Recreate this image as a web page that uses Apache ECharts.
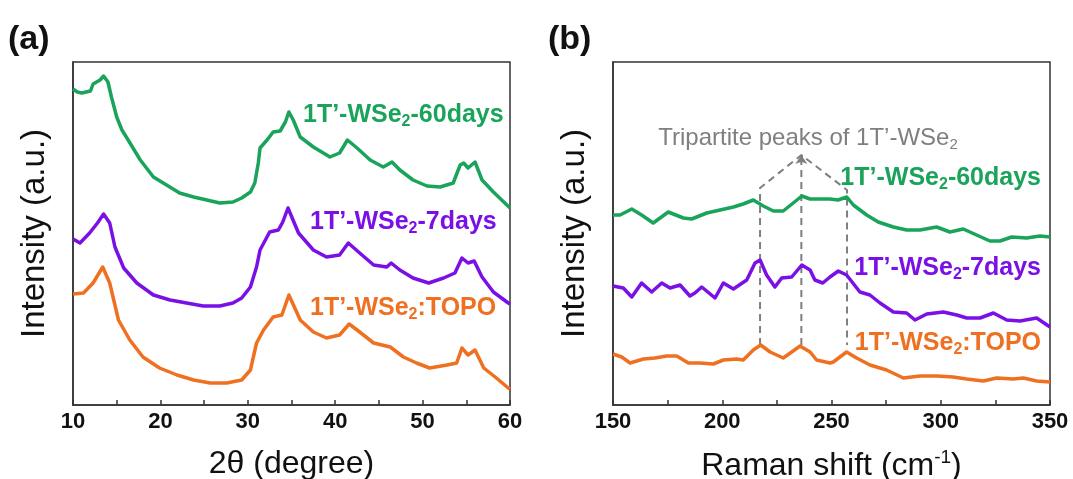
<!DOCTYPE html>
<html>
<head>
<meta charset="utf-8">
<script src="https://cdn.jsdelivr.net/npm/echarts@6/dist/echarts.min.js"></script>
<style>
html,body{margin:0;padding:0;background:#fff;}
#c{width:1073px;height:479px;}
</style>
</head>
<body>
<div id="c"></div>
<script>
// ---------- Panel (a): XRD ----------
const xrdX60 = [10,10.5,11,11.5,12,12.3,13.1,13.5,14.0,14.4,15.0,15.6,16.1,17.7,19.2,20.7,22.2,23.8,25.3,26.8,28.3,29.3,30.3,30.8,31.2,31.4,32.2,32.9,33.7,34.3,34.7,35.2,36.0,37.5,39.4,40.5,41.4,42.5,44.0,45.5,46.5,47.4,48.9,50.5,52.0,53.5,54.3,54.7,55.2,56.0,56.8,58.1,60];
const xrdY60 = [316,313,312,313,314,321,325,329,323,308,288,275,268,245,228,220,212,208,205,202,203,207,213,222,242,257,265,273,274,283,293,285,268,258,248,252,265,257,245,238,243,235,225,219,218,222,240,242,237,243,225,213,197];

const xrdX7 = [10,10.8,11.9,12.8,13.5,14.2,14.8,15.8,17.3,19.2,21.1,23.0,24.9,26.8,28.3,29.3,30.3,31.0,31.4,32.5,33.5,34.0,34.6,35.8,37.5,39.0,40.5,41.5,42.8,44.4,45.9,46.4,47.4,48.9,50.7,52.4,53.7,54.5,55.2,55.9,56.8,58.1,59.8,60];
const xrdY7 = [166,162,172,182,191,182,158,137,122,110,105,102,99,99,102,107,118,138,155,173,175,183,197,172,155,148,150,162,152,140,138,142,135,127,122,127,132,147,142,144,128,113,102,101];

const xrdXT = [10,11.2,12.3,13.4,14.2,15.2,16.5,18.0,19.9,21.9,23.8,25.7,27.6,29.3,30.3,31.0,31.8,32.9,33.9,34.7,36.0,37.5,39.0,40.5,41.6,42.8,44.4,46.3,47.8,49.3,50.8,52.8,53.9,54.5,55.2,56.0,57.0,58.3,59.8,60];
const xrdYT = [111,112,122,138,122,85,65,48,37,30,25,22,22,25,35,62,75,88,90,110,85,73,67,70,81,73,62,58,48,42,37,40,42,57,50,55,37,28,17,16];

// ---------- Panel (b): Raman ----------
const ramX60 = [150,153.2,158.6,163.1,168.4,175.3,182.2,186,192.9,199,205.1,209.6,214.2,218.8,223.4,227.9,232.5,236.4,240.2,244.7,249.3,253,257,260,266.1,271.4,278.3,284.4,290.5,298.1,304.2,310.3,316.4,322.5,327.1,332.5,339.3,345.4,350];
const ramY60 = [190,190,196,190,182,193,187,186,192,195,198,201,205,199,194,194,202,209,206,206,206,205,208,200,190,183,178,175,175,178,173,176,170,164,164,168,167,169,168];

const ramX7 = [150,154.7,158.6,163.1,167.7,172.3,176.1,180.7,185.2,187.5,190.6,196.7,200.5,205.1,211.2,215,217.3,220.3,224.1,227.2,231.8,236.4,240.2,242.4,246,249.3,253.1,256.9,263.0,267.6,272.2,278.3,284.4,288.2,293.6,301.2,307.3,311.9,318.0,324.1,330.2,336.3,343.9,350];
const ramY7 = [119,117,108,122,113,122,117,120,109,112,118,107,122,116,125,142,145,130,118,127,128,140,135,125,122,128,134,130,113,110,102,93,92,85,91,93,90,87,87,92,85,84,87,78];

const ramXT = [150,154,157.8,163.9,169.2,174.6,179.2,184.5,189.8,195.9,200.5,206.6,209.6,214.2,217.6,221.9,227.9,231.8,235.6,240.2,243.2,249.3,250.8,256.9,261.5,267.6,275.2,282.9,290.5,298.1,305.7,311.9,319.5,325.6,333.2,337.8,343.9,350];
const ramYT = [51,48,42,46,47,49,49,42,42,41,45,46,45,55,60,53,47,53,59,53,45,42,43,53,47,40,35,27,29,29,28,26,24,27,26,27,24,23];

// guide lines marking the tripartite peaks (Raman shift, intensity)
const peakX = [217.3, 236.2, 257.1];
const guideTop = [217, 250, 215];
const guideBottom = 60;

const xrdTicks = {min:10, max:60, interval:10};
const ramTicks = {min:150, max:350, interval:50};

const GREEN = '#1aa35a', PURPLE = '#7a10e6', ORANGE = '#ee7020', GRAY = '#7f7f7f';
const FONT = 'Liberation Sans, Arial, sans-serif';

function pairs(xs, ys){ return xs.map((x,i)=>[x, ys[i]]); }

const chart = echarts.init(document.getElementById('c'));

function xAxisCfg(grid, t, name, rich){
  return {
    type:'value', gridIndex:grid, min:t.min, max:t.max, interval:t.interval,
    name:name, nameLocation:'middle', nameGap:43,
    nameTextStyle:{fontFamily:FONT, fontSize:32, color:'#111', rich:rich},
    axisLine:{show:true, lineStyle:{color:'#333', width:1.5}},
    axisTick:{show:true, inside:true, length:5, lineStyle:{color:'#333', width:1.5}},
    minorTick:{show:true, splitNumber:2, length:5, lineStyle:{color:'#333', width:1.5}},
    axisLabel:{fontFamily:FONT, fontSize:22, fontWeight:'bold', color:'#111', margin:6, showMinLabel:true, showMaxLabel:true},
    splitLine:{show:false}
  };
}
function yAxisCfg(grid){
  return {
    type:'value', gridIndex:grid, min:0, max:343,
    name:'Intensity (a.u.)', nameLocation:'middle', nameGap:22, nameRotate:90,
    nameTextStyle:{fontFamily:FONT, fontSize:33, color:'#111'},
    axisLine:{show:true, lineStyle:{color:'#333', width:1.5}},
    axisTick:{show:false}, axisLabel:{show:false}, splitLine:{show:false}
  };
}
function lineSeries(xi, data, color){
  return {type:'line', xAxisIndex:xi, yAxisIndex:xi, data:data, symbol:'none',
    lineStyle:{color:color, width:3.5, join:'round'}, silent:true, animation:false};
}

const guidePath = [
  [peakX[0], guideBottom], [peakX[0], guideTop[0]],
  [peakX[1], guideTop[1]],
  [peakX[2], guideTop[2]], [peakX[2], guideBottom]
];

function subLabel(pre, post, color, size){
  return {
    text:'{m|'+pre+'}{s|2}{m|'+post+'}',
    rich:{
      m:{fontFamily:FONT, fontSize:size, fontWeight:'bold', fill:color, lineHeight:size+4},
      s:{fontFamily:FONT, fontSize:Math.round(size*0.62), fontWeight:'bold', fill:color, verticalAlign:'bottom', lineHeight:12}
    }
  };
}
function labelText(x, y, pre, post, color, align){
  const st = subLabel(pre, post, color, 25);
  st.align = align; st.verticalAlign = 'middle';
  return {type:'text', x:x, y:y, style:st, silent:true};
}

chart.setOption({
  animation:false,
  backgroundColor:'#fff',
  grid:[
    {left:73, right:563, top:62, bottom:74, show:true, borderColor:'#333', borderWidth:1.5, backgroundColor:'transparent', containLabel:false, outerBoundsMode:'none'},
    {left:613, right:23, top:62, bottom:74, show:true, borderColor:'#333', borderWidth:1.5, backgroundColor:'transparent', containLabel:false, outerBoundsMode:'none'}
  ],
  xAxis:[
    xAxisCfg(0, xrdTicks, '2θ (degree)'),
    xAxisCfg(1, ramTicks, '{n|Raman shift (cm}{p|-1}{n|)}', {
      n:{fontFamily:FONT, fontSize:32, color:'#111', lineHeight:36},
      p:{fontFamily:FONT, fontSize:19, color:'#111', verticalAlign:'top', lineHeight:14}
    })
  ],
  yAxis:[yAxisCfg(0), yAxisCfg(1)],
  series:[
    lineSeries(0, pairs(xrdX60, xrdY60), GREEN),
    lineSeries(0, pairs(xrdX7, xrdY7), PURPLE),
    lineSeries(0, pairs(xrdXT, xrdYT), ORANGE),
    {type:'line', xAxisIndex:1, yAxisIndex:1, data:guidePath, symbol:'none', silent:true,
      lineStyle:{color:GRAY, width:2, type:[7,5]}, z:1},
    {type:'line', xAxisIndex:1, yAxisIndex:1, data:[[peakX[1], guideBottom],[peakX[1], guideTop[1]]], symbol:'none', silent:true,
      lineStyle:{color:GRAY, width:2, type:[7,5]}, z:1,
      markLine:{silent:true, symbol:['none','arrow'], symbolSize:[9,9], label:{show:false},
        lineStyle:{color:GRAY, width:2, type:'solid'},
        data:[[{coord:[peakX[1], guideTop[1]-6]},{coord:[peakX[1], guideTop[1]]}]]}},
    lineSeries(1, pairs(ramX60, ramY60), GREEN),
    lineSeries(1, pairs(ramX7, ramY7), PURPLE),
    lineSeries(1, pairs(ramXT, ramYT), ORANGE)
  ],
  graphic:[
    {type:'text', x:8, y:40, style:{text:'(a)', fontFamily:FONT, fontSize:34, fontWeight:'bold', fill:'#111', verticalAlign:'middle'}},
    {type:'text', x:548, y:40, style:{text:'(b)', fontFamily:FONT, fontSize:34, fontWeight:'bold', fill:'#111', verticalAlign:'middle'}},
    labelText(303, 115, '1T’-WSe', '-60days', GREEN, 'left'),
    labelText(310, 222, '1T’-WSe', '-7days', PURPLE, 'left'),
    labelText(310, 308, '1T’-WSe', ':TOPO', ORANGE, 'left'),
    labelText(1041, 178, '1T’-WSe', '-60days', GREEN, 'right'),
    labelText(1041, 268, '1T’-WSe', '-7days', PURPLE, 'right'),
    labelText(1041, 343, '1T’-WSe', ':TOPO', ORANGE, 'right'),
    {type:'text', x:808, y:138, silent:true, style:{
      text:'{m|Tripartite peaks of 1T’-WSe}{s|2}', align:'center', verticalAlign:'middle',
      rich:{
        m:{fontFamily:FONT, fontSize:24, fill:GRAY, lineHeight:28},
        s:{fontFamily:FONT, fontSize:15, fill:GRAY, verticalAlign:'bottom', lineHeight:12}
      }}}
  ]
});
</script>
</body>
</html>
